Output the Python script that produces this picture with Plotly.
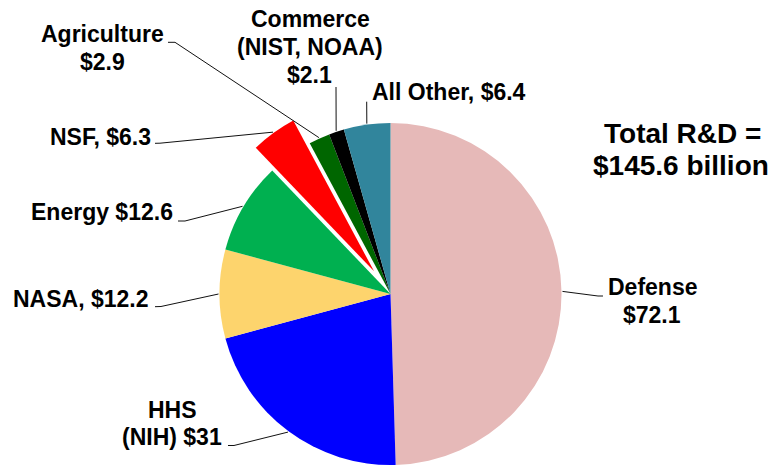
import math
import plotly.graph_objects as go

# ---------------- data ----------------
names = ["Defense", "HHS (NIH)", "NASA", "Energy", "NSF", "Agriculture",
         "Commerce (NIST, NOAA)", "All Other"]
values = [72.1, 31, 12.2, 12.6, 6.3, 2.9, 2.1, 6.4]
colors = ["#E6B9B8", "#0000FF", "#FDD46D", "#00B050", "#FF0000", "#006600",
          "#000000", "#31859C"]
pulled_name = "NSF"
# label text templates ({v} -> value), one entry per line
label_templates = [
    ["Defense", "${v}"],
    ["HHS", "(NIH) ${v}"],
    ["NASA, ${v}"],
    ["Energy ${v}"],
    ["NSF, ${v}"],
    ["Agriculture", "${v}"],
    ["Commerce", "(NIST, NOAA)", "${v}"],
    ["All Other, ${v}"],
]
total_templates = ["Total R&D =", "${t} billion"]

# ---------------- layout constants (pixels) ----------------
W, H = 775, 465
CX, CY, R = 390.5, 294.0, 171.0
PULL_PX = 28.0
FONT = "Liberation Sans, Arial, sans-serif"
FS = 23
FS_TOTAL = 28

# per label: (center x, baseline y) for each line
label_pos = [
    [(652.5, 295), (651.5, 322.7)],
    [(172.5, 418.3), (172, 445.5)],
    [(81.2, 306.7)],
    [(101.7, 220)],
    [(100, 145)],
    [(102.5, 42), (102.5, 70)],
    [(310, 27.5), (310, 55.2), (309, 82.7)],
    [(449, 100)],
]
total_pos = [(682.5, 143.3), (680.8, 175)]
# leader line points at the label side (pie-edge end computed from data)
leader_start = [
    [(603, 296), (598, 296)],
    [(228, 445.5), (234, 445.5)],
    [(155, 306.7), (161, 306.5)],
    [(178, 221), (185, 221)],
    [(155, 143.3), (160, 143.2)],
    [(168, 42.3), (175, 42.3)],
    [(336, 87)],
    [(366.7, 101.7)],
]


def px(x):
    return x / W


def py(y):
    return 1 - y / H


total = sum(values)
mids = []
acc = 0.0
for v in values:
    mids.append((acc + v / 2) / total * 360.0)
    acc += v

pi_idx = names.index(pulled_name)
th = math.radians(mids[pi_idx])
PCX = CX + PULL_PX * math.sin(th)
PCY = CY - PULL_PX * math.cos(th)


def domain(cx, cy):
    return dict(x=[px(cx - R), px(cx + R)], y=[py(cy + R), py(cy - R)])


base_colors = [("rgba(0,0,0,0)" if n == pulled_name else c)
               for n, c in zip(names, colors)]
pull_colors = [(c if n == pulled_name else "rgba(0,0,0,0)")
               for n, c in zip(names, colors)]

fig = go.Figure()
fig.add_trace(go.Pie(labels=names, values=values, sort=False,
                     direction="clockwise", rotation=0,
                     marker=dict(colors=base_colors, line=dict(width=0)),
                     textinfo="none", hoverinfo="label+value",
                     domain=domain(CX, CY), showlegend=False))
fig.add_trace(go.Pie(labels=names, values=values, sort=False,
                     direction="clockwise", rotation=0,
                     marker=dict(colors=pull_colors, line=dict(width=0)),
                     textinfo="none", hoverinfo="skip",
                     domain=domain(PCX, PCY), showlegend=False))

annotations = []
shapes = []
for i, (v, tmpl) in enumerate(zip(values, label_templates)):
    for line, (x, yb) in zip(tmpl, label_pos[i]):
        txt = line.replace("{v}", f"{v:g}")
        annotations.append(dict(
            x=px(x), y=py(yb - 0.35 * FS), xref="paper", yref="paper",
            text=f"<b>{txt}</b>", showarrow=False, xanchor="center",
            yanchor="middle", font=dict(family=FONT, size=FS, color="black")))
    # leader line to slice edge
    a = math.radians(mids[i])
    if names[i] == pulled_name:
        ex, ey = PCX + (R + 1) * math.sin(a), PCY - (R + 1) * math.cos(a)
    else:
        ex, ey = CX + (R + 1) * math.sin(a), CY - (R + 1) * math.cos(a)
    pts = leader_start[i] + [(ex, ey)]
    path = "M " + " L ".join(f"{px(x):.5f},{py(y):.5f}" for x, y in pts)
    shapes.append(dict(type="path", path=path, xref="paper", yref="paper",
                       line=dict(color="#111111", width=1)))

for line, (x, yb) in zip(total_templates, total_pos):
    txt = line.replace("{t}", f"{total:.1f}")
    annotations.append(dict(
        x=px(x), y=py(yb - 0.35 * FS_TOTAL), xref="paper", yref="paper",
        text=f"<b>{txt}</b>", showarrow=False, xanchor="center",
        yanchor="middle", font=dict(family=FONT, size=FS_TOTAL, color="black")))

fig.update_layout(width=W, height=H, margin=dict(l=0, r=0, t=0, b=0),
                  paper_bgcolor="white", plot_bgcolor="white",
                  annotations=annotations, shapes=shapes)

fig.write_html("out.html",
               config={"displayModeBar": False},
               post_script="document.body.style.margin='0';"
                           "document.body.style.overflow='hidden';")
